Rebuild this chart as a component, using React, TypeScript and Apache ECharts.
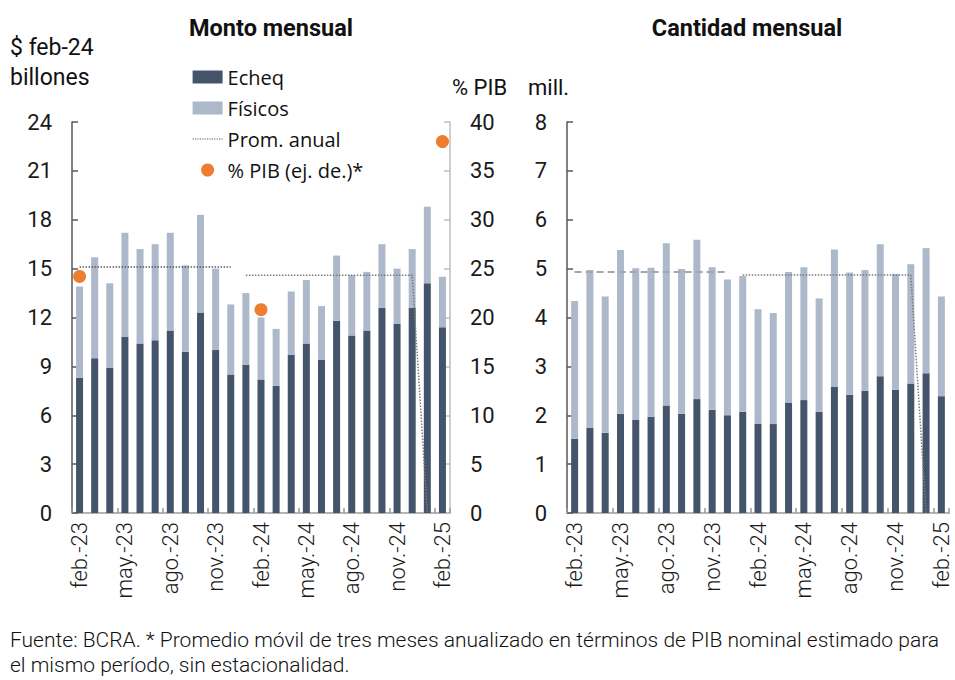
import React, { useEffect, useRef } from "react";
import * as echarts from "echarts";

const months = [
  "feb.-23", "mar.-23", "abr.-23", "may.-23", "jun.-23", "jul.-23", "ago.-23", "sep.-23", "oct.-23", "nov.-23", "dic.-23",
  "ene.-24", "feb.-24", "mar.-24", "abr.-24", "may.-24", "jun.-24", "jul.-24", "ago.-24", "sep.-24", "oct.-24", "nov.-24", "dic.-24",
  "ene.-25", "feb.-25",
];

// Monto mensual ($ feb-24 billones)
const montoEcheq = [8.3, 9.5, 8.9, 10.8, 10.4, 10.6, 11.2, 9.9, 12.3, 10.0, 8.5, 9.1, 8.2, 7.8, 9.7, 10.4, 9.4, 11.8, 10.9, 11.2, 12.6, 11.6, 12.6, 14.1, 11.4];
const montoFisicos = [5.6, 6.2, 5.2, 6.4, 5.8, 5.9, 6.0, 5.3, 6.0, 5.0, 4.3, 4.4, 3.8, 3.5, 3.9, 3.9, 3.3, 4.0, 3.7, 3.6, 3.9, 3.4, 3.6, 4.7, 3.1];
const montoProm2023 = [15.1, 15.1, 15.1, 15.1, 15.1, 15.1, 15.1, 15.1, 15.1, 15.1, 15.1, null, null, null, null, null, null, null, null, null, null, null, null, null, null];
const montoProm2024 = [null, null, null, null, null, null, null, null, null, null, null, 14.6, 14.6, 14.6, 14.6, 14.6, 14.6, 14.6, 14.6, 14.6, 14.6, 14.6, 14.6, 0, null];
const pibPct = [24.2, null, null, null, null, null, null, null, null, null, null, null, 20.8, null, null, null, null, null, null, null, null, null, null, null, 38.0];

// Cantidad mensual (mill.)
const cantEcheq = [1.52, 1.74, 1.64, 2.03, 1.91, 1.97, 2.2, 2.03, 2.33, 2.11, 2.0, 2.07, 1.83, 1.82, 2.26, 2.31, 2.07, 2.58, 2.42, 2.5, 2.8, 2.52, 2.65, 2.86, 2.39];
const cantFisicos = [2.82, 3.23, 2.79, 3.35, 3.1, 3.05, 3.32, 2.96, 3.26, 2.92, 2.78, 2.78, 2.34, 2.27, 2.67, 2.72, 2.32, 2.81, 2.5, 2.47, 2.7, 2.37, 2.44, 2.56, 2.04];
const cantProm2023 = [4.93, 4.93, 4.93, 4.93, 4.93, 4.93, 4.93, 4.93, 4.93, 4.93, 4.93, null, null, null, null, null, null, null, null, null, null, null, null, null, null];
const cantProm2024 = [null, null, null, null, null, null, null, null, null, null, null, 4.87, 4.87, 4.87, 4.87, 4.87, 4.87, 4.87, 4.87, 4.87, 4.87, 4.87, 4.87, 0, null];

const leftTicks = { min: 0, max: 24, interval: 3 };
const rightTicks = { min: 0, max: 40, interval: 5 };
const cantTicks = { min: 0, max: 8, interval: 1 };

const DARK = "#44546a";
const LIGHT = "#adb9ca";
const ORANGE = "#ed7d31";
const FONT = "Roboto";

export default function App() {
  const ref = useRef<HTMLDivElement>(null);
  useEffect(() => {
    if (!ref.current) return;
    const chart = echarts.init(ref.current, undefined, { renderer: "svg" });

    const xAxisBase = (gridIndex: number) => ({
      type: "category",
      gridIndex,
      data: months,
      boundaryGap: true,
      axisLine: { show: true, lineStyle: { color: "#b4b4b4", width: 2 } },
      axisTick: { show: true, interval: 2, inside: true, length: 5, lineStyle: { color: "#9a9a9a", width: 1.5 } },
      axisLabel: { interval: 2, rotate: 90, margin: 9, fontFamily: FONT, fontWeight: 300, fontSize: 22, color: "#1a1a1a" },
      splitLine: { show: false },
    });

    const yAxisBase = (gridIndex: number, ticks: any, position: string, color: string) => ({
      type: "value",
      gridIndex,
      position,
      min: ticks.min,
      max: ticks.max,
      interval: ticks.interval,
      axisLine: { show: true, lineStyle: { color, width: 1.5 } },
      axisTick: { show: true, inside: true, length: 6, lineStyle: { color, width: 1.5 } },
      axisLabel: { margin: 20, fontFamily: FONT, fontSize: 22, color: "#1a1a1a" },
      splitLine: { show: false },
    });

    const option: any = {
      animation: false,
      backgroundColor: "#ffffff",
      title: [
        { text: "Monto mensual", left: 266, top: 11, textAlign: "center", textStyle: { fontFamily: FONT, fontWeight: "bold", fontSize: 23.5, color: "#111" } },
        { text: "Cantidad mensual", left: 742, top: 11, textAlign: "center", textStyle: { fontFamily: FONT, fontWeight: "bold", fontSize: 23.5, color: "#111" } },
      ],
      legend: {
        orient: "vertical",
        left: 187,
        top: 62,
        itemWidth: 30,
        itemHeight: 13,
        itemGap: 11,
        textStyle: { fontFamily: "Open Sans", fontSize: 20, color: "#111" },
        data: [
          { name: "Echeq", icon: "rect" },
          { name: "Físicos", icon: "rect" },
          { name: "Prom. anual", itemStyle: { opacity: 0 }, lineStyle: { color: "#595959", width: 1.2, type: "dotted" } },
          { name: "% PIB (ej. de.)*", icon: "circle", itemStyle: { opacity: 1 } },
        ],
      },
      grid: [
        { left: 72, right: 505, top: 122, bottom: 167 },
        { left: 567, right: 6, top: 122, bottom: 167 },
      ],
      xAxis: [xAxisBase(0), xAxisBase(1)],
      yAxis: [
        yAxisBase(0, leftTicks, "left", "#595959"),
        yAxisBase(0, rightTicks, "right", "#bfbfbf"),
        yAxisBase(1, cantTicks, "left", "#595959"),
      ],
      graphic: [
        { type: "text", left: 10, top: 32, style: { text: "$ feb-24\nbillones", fontFamily: FONT, fontSize: 23, lineHeight: 30, fill: "#111" } },
        { type: "text", left: 452, top: 76, style: { text: "% PIB", fontFamily: FONT, fontSize: 22, fill: "#111" } },
        { type: "text", left: 528, top: 76, style: { text: "mill.", fontFamily: FONT, fontSize: 22, fill: "#111" } },
        {
          type: "text", left: 10, top: 627,
          style: {
            text: "Fuente: BCRA. * Promedio móvil de tres meses anualizado en términos de PIB nominal estimado para\nel mismo período, sin estacionalidad.",
            fontFamily: FONT, fontWeight: 300, fontSize: 21, lineHeight: 25, fill: "#111",
          },
        },
      ],
      series: [
        { name: "Echeq", type: "bar", xAxisIndex: 0, yAxisIndex: 0, stack: "m", barWidth: 7, itemStyle: { color: DARK }, data: montoEcheq },
        { name: "Físicos", type: "bar", xAxisIndex: 0, yAxisIndex: 0, stack: "m", barWidth: 7, itemStyle: { color: LIGHT }, data: montoFisicos },
        { name: "Prom. anual", type: "line", xAxisIndex: 0, yAxisIndex: 0, symbol: "none", connectNulls: false, lineStyle: { color: "#595959", width: 1.5, type: "dotted" }, itemStyle: { color: "#595959" }, data: montoProm2023, z: 5 },
        { name: "Prom. anual", type: "line", xAxisIndex: 0, yAxisIndex: 0, symbol: "none", connectNulls: false, lineStyle: { color: "#7a7a7a", width: 1.5, type: "dotted" }, itemStyle: { color: "#595959" }, data: montoProm2024, z: 5 },
        { name: "% PIB (ej. de.)*", type: "scatter", xAxisIndex: 0, yAxisIndex: 1, symbol: "circle", symbolSize: 13, itemStyle: { color: ORANGE, opacity: 1 }, data: pibPct, z: 6 },
        { name: "Echeq", type: "bar", xAxisIndex: 1, yAxisIndex: 2, stack: "c", barWidth: 7, itemStyle: { color: DARK }, data: cantEcheq },
        { name: "Físicos", type: "bar", xAxisIndex: 1, yAxisIndex: 2, stack: "c", barWidth: 7, itemStyle: { color: LIGHT }, data: cantFisicos },
        { name: "Prom. anual 2023", type: "line", xAxisIndex: 1, yAxisIndex: 2, symbol: "none", connectNulls: false, lineStyle: { color: "#a6a6a6", width: 2, type: [7, 4] }, data: cantProm2023, z: 5 },
        { name: "Prom. anual", type: "line", xAxisIndex: 1, yAxisIndex: 2, symbol: "none", connectNulls: false, lineStyle: { color: "#7a7a7a", width: 1.5, type: "dotted" }, itemStyle: { color: "#595959" }, data: cantProm2024, z: 5 },
      ],
    };

    chart.setOption(option);
    return () => chart.dispose();
  }, []);

  return <div ref={ref} style={{ position: "fixed", left: 0, top: 0, width: 955, height: 680 }} />;
}
